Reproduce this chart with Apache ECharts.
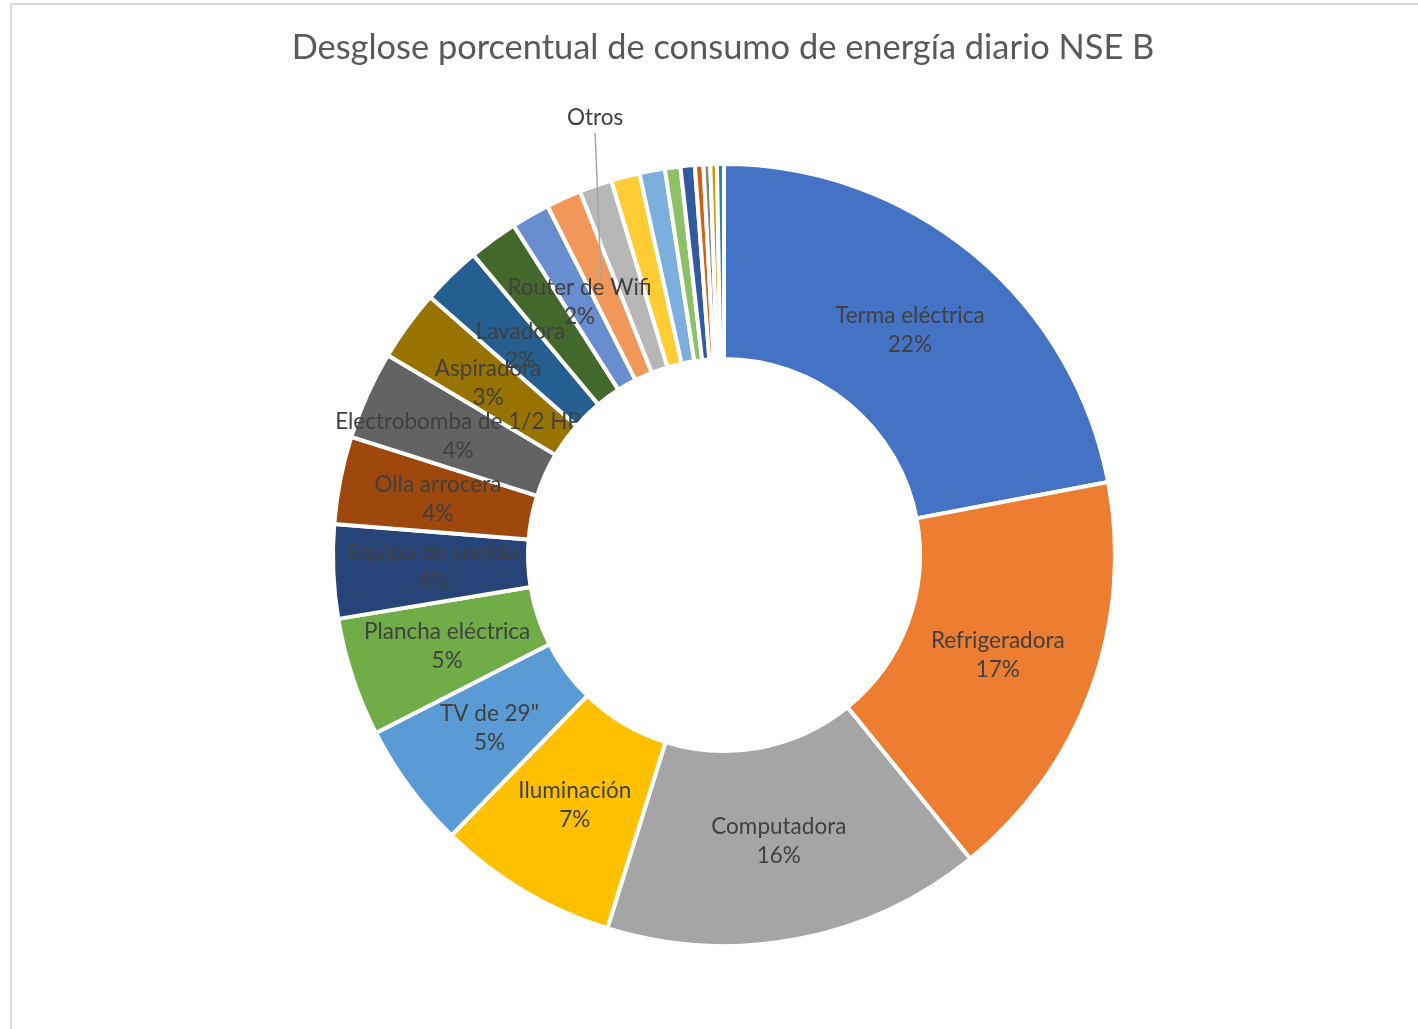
<!DOCTYPE html>
<html>
<head>
<meta charset="utf-8">
<title>Desglose porcentual de consumo de energía diario NSE B</title>
<script src="https://cdn.jsdelivr.net/npm/echarts@6/dist/echarts.min.js"></script>
<style>
  html, body { margin: 0; padding: 0; background: #fff; overflow: hidden; }
  #chart { position: absolute; left: 0; top: 0; width: 1418px; height: 1029px; }
  #frame {
    position: absolute; left: 10px; top: 3px; width: 1420px; height: 1040px;
    border-top: 2px solid #D9D9D9; border-left: 2px solid #D9D9D9;
    pointer-events: none;
  }
</style>
</head>
<body>
<div id="chart"></div>
<div id="frame"></div>
<script>
// Share of daily energy use per appliance (%), clockwise from 12 o'clock
const categories = [
  'Terma eléctrica', 'Refrigeradora', 'Computadora', 'Iluminación', 'TV de 29"',
  'Plancha eléctrica', 'Equipo de sonido', 'Olla arrocera', 'Electrobomba de 1/2 HP',
  'Aspiradora', 'Lavadora', 'Artefacto 12', 'Router de Wifi', 'Otros',
  'Artefacto 15', 'Artefacto 16', 'Artefacto 17', 'Artefacto 18', 'Artefacto 19',
  'Artefacto 20', 'Artefacto 21', 'Artefacto 22', 'Artefacto 23'
];
const values = [
  22.0, 17.14, 15.66, 7.45, 5.2,
  4.91, 3.87, 3.62, 3.65,
  2.93, 2.46, 2.03, 1.59, 1.45,
  1.35, 1.18, 1.05, 0.64, 0.59,
  0.35, 0.28, 0.27, 0.29
];
// Slices drawn without a data label
const unlabeled = [
  'Artefacto 12', 'Artefacto 15', 'Artefacto 16', 'Artefacto 17', 'Artefacto 18',
  'Artefacto 19', 'Artefacto 20', 'Artefacto 21', 'Artefacto 22', 'Artefacto 23'
];
// Slice whose label sits above the ring with a leader line
const calloutName = 'Otros';

const palette = [
  '#4472C4', '#ED7D31', '#A5A5A5', '#FFC000', '#5B9BD5', '#70AD47',
  '#264478', '#9E480E', '#636363', '#997300', '#255E91', '#43682B',
  '#698ED0', '#F1975A', '#B7B7B7', '#FFCD33', '#7CAFDD', '#8CC168',
  '#335AA1', '#D26012', '#848484', '#CC9A00', '#327DC2'
];

const CX = 724, CY = 555, R_IN = 196, R_OUT = 391;
const LABEL_INSET = 5; // inside labels sit slightly closer to the hole than mid-ring
const FONT = 'Lato, "Open Sans", sans-serif';
const TEXT = '#404040';

const total = values.reduce((s, v) => s + v, 0);
const calloutIndex = categories.indexOf(calloutName);

const labelText = {
  color: TEXT, fontFamily: FONT, fontSize: 22.5, lineHeight: 29, align: 'center'
};

// Ring with its inside labels
const ringData = categories.map((name, i) => {
  const item = { name: name, value: values[i], itemStyle: { color: palette[i] } };
  if (unlabeled.indexOf(name) >= 0 || i === calloutIndex) item.label = { show: false };
  return item;
});

// Invisible copy of the ring drawn on top, carrying only the callout and its leader line
const calloutData = categories.map((name, i) => {
  const item = { name: name, value: values[i] };
  if (i === calloutIndex) {
    item.label = { show: true };
    item.labelLine = { show: true };
  } else {
    item.label = { show: false };
    item.labelLine = { show: false };
  }
  return item;
});

// mid angle (radians, clockwise from 12 o'clock) of slice i
function midAngle(i) {
  let before = 0;
  for (let k = 0; k < i; k++) before += values[k];
  return (before + values[i] / 2) / total * Math.PI * 2;
}

const chart = echarts.init(document.getElementById('chart'), null, { renderer: 'canvas' });
chart.setOption({
  backgroundColor: '#ffffff',
  animation: false,
  title: {
    text: 'Desglose porcentual de consumo de energía diario NSE B',
    left: CX - 6,
    textAlign: 'center',
    top: 26,
    textStyle: { fontFamily: FONT, fontSize: 34.4, fontWeight: 'normal', color: '#595959' }
  },
  series: [{
    type: 'pie',
    z: 2,
    center: [CX, CY],
    radius: [R_IN, R_OUT],
    startAngle: 90,
    clockwise: true,
    avoidLabelOverlap: false,
    emphasis: { disabled: true },
    itemStyle: { borderColor: '#ffffff', borderWidth: 4 },
    label: Object.assign({
      show: true,
      position: 'inside',
      formatter: p => p.name + '\n' + Math.round(p.percent) + '%'
    }, labelText),
    labelLine: { show: false },
    // overlapping labels stay visible; nudge each one a little toward the centre
    labelLayout: function (p) {
      const a = midAngle(p.dataIndex);
      return {
        hideOverlap: false,
        dx: -LABEL_INSET * Math.sin(a),
        dy: LABEL_INSET * Math.cos(a)
      };
    },
    data: ringData
  }, {
    type: 'pie',
    z: 3,
    silent: true,
    center: [CX, CY],
    radius: [R_IN, R_OUT],
    startAngle: 90,
    clockwise: true,
    avoidLabelOverlap: false,
    emphasis: { disabled: true },
    itemStyle: { color: 'rgba(0,0,0,0)', borderWidth: 0 },
    label: Object.assign({ position: 'outside', formatter: '{b}' }, labelText),
    labelLine: { lineStyle: { color: '#A6A6A6', width: 1.5 } },
    labelLayout: function (p) {
      if (p.dataIndex !== calloutIndex) return {};
      const a = midAngle(calloutIndex);
      const rMid = (R_IN + R_OUT) / 2 + 6;
      const ax = CX + rMid * Math.sin(a);
      const ay = CY - rMid * Math.cos(a);
      const lx = ax - 6;
      const ly = CY - R_OUT - 46;
      return {
        x: lx, y: ly, align: 'center', verticalAlign: 'middle',
        labelLinePoints: [[lx, ly + 15], [(lx + ax) / 2, (ly + 15 + ay) / 2], [ax, ay]]
      };
    },
    data: calloutData
  }]
});
</script>
</body>
</html>
